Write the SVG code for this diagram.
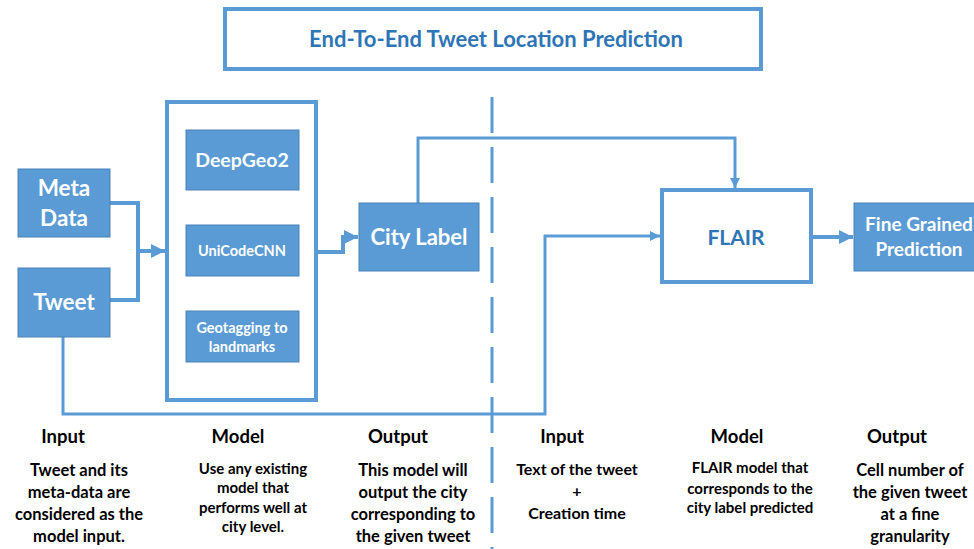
<svg xmlns="http://www.w3.org/2000/svg" width="974" height="549" viewBox="0 0 974 549">
<style>
.box{fill:#5B9BD5;stroke:#4A82B8;stroke-width:1}
.frame{fill:#fff;stroke:#5B9BD5;stroke-width:4}
.w{fill:#fff;font-family:Lato,"Open Sans",sans-serif;font-weight:700;text-anchor:middle}
.b{fill:#2E75B6;font-family:Lato,"Open Sans",sans-serif;font-weight:700;text-anchor:middle}
.k{fill:#000;font-family:Lato,"Open Sans",sans-serif;font-weight:700;text-anchor:middle}
.thick{fill:none;stroke:#5B9BD5;stroke-width:4}
.thin{fill:none;stroke:#5B9BD5;stroke-width:3}
</style>
<defs>
<marker id="ah" markerUnits="userSpaceOnUse" markerWidth="16" markerHeight="16" refX="14" refY="8" orient="auto"><path d="M0,1 L14,8 L0,15 Z" fill="#5B9BD5"/></marker>
<marker id="as" markerUnits="userSpaceOnUse" markerWidth="12" markerHeight="12" refX="10" refY="6" orient="auto"><path d="M0,1 L10,6 L0,11 Z" fill="#5B9BD5"/></marker>
</defs>
<g id="title"><rect class="frame" x="225" y="9" width="536" height="60"/><text class="b" x="496" y="47" font-size="22">End-To-End Tweet Location Prediction</text></g>
<g id="connectors">
<path class="thin" d="M492,97 V549" stroke-width="4" stroke-dasharray="36 14"/>
<path class="thick" d="M110,203 H138 V300 H110"/>
<path class="thick" d="M138,251 H165" marker-end="url(#ah)"/>
<path class="thick" d="M318,252 H343 V237 H358" marker-end="url(#ah)"/>
<path class="thin" d="M418,203 V138 H735 V188" marker-end="url(#as)"/>
<path class="thin" d="M63,337 V414 H545 V236 H660" marker-end="url(#as)"/>
<path class="thick" d="M812,237 H853" marker-end="url(#ah)"/>
</g>
<g id="meta"><rect class="box" x="18" y="169" width="92" height="68"/><text class="w" x="64" y="196" font-size="22.5">Meta</text><text class="w" x="64" y="226" font-size="22.5">Data</text></g>
<g id="tweet"><rect class="box" x="18" y="268" width="92" height="69"/><text class="w" x="64" y="310" font-size="22.5">Tweet</text></g>
<g id="model"><rect class="frame" x="167" y="102" width="149" height="298"/></g>
<g id="deepgeo"><rect class="box" x="186" y="130" width="113" height="60"/><text class="w" x="242" y="167" font-size="19.5">DeepGeo2</text></g>
<g id="unicode"><rect class="box" x="186" y="225" width="113" height="51"/><text class="w" x="242" y="256" font-size="14.5">UniCodeCNN</text></g>
<g id="geotag"><rect class="box" x="186" y="311" width="113" height="51"/><text class="w" x="242" y="333" font-size="14.5">Geotagging to</text><text class="w" x="242" y="352" font-size="14.5">landmarks</text></g>
<g id="city"><rect class="box" x="359" y="203" width="120" height="68"/><text class="w" x="419" y="245" font-size="22">City Label</text></g>
<g id="flair"><rect class="frame" x="662" y="190" width="149" height="92"/><text class="b" x="736" y="245" font-size="21">FLAIR</text></g>
<g id="fine"><rect class="box" x="854" y="203" width="125" height="68"/><text class="w" x="919" y="231" font-size="19">Fine Grained</text><text class="w" x="919" y="256" font-size="19">Prediction</text></g>
<g id="notes">
<text class="k" x="63" y="443" font-size="18.5">Input</text>
<text class="k" font-size="16.5"><tspan x="79" y="476">Tweet and its</tspan><tspan x="79" y="498">meta-data are</tspan><tspan x="79" y="520">considered as the</tspan><tspan x="79" y="542">model input.</tspan></text>
<text class="k" x="238" y="443" font-size="18.5">Model</text>
<text class="k" font-size="15"><tspan x="253" y="474">Use any existing</tspan><tspan x="253" y="493">model that</tspan><tspan x="253" y="513">performs well at</tspan><tspan x="253" y="532">city level.</tspan></text>
<text class="k" x="398" y="443" font-size="18.5">Output</text>
<text class="k" font-size="16.5"><tspan x="413" y="476">This model will</tspan><tspan x="413" y="498">output the city</tspan><tspan x="413" y="520">corresponding to</tspan><tspan x="413" y="542">the given tweet</tspan></text>
<text class="k" x="562" y="443" font-size="18.5">Input</text>
<text class="k" font-size="16"><tspan x="577" y="475">Text of the tweet</tspan><tspan x="577" y="497">+</tspan><tspan x="577" y="519">Creation time</tspan></text>
<text class="k" x="737" y="443" font-size="18.5">Model</text>
<text class="k" font-size="15"><tspan x="750" y="473">FLAIR model that</tspan><tspan x="750" y="494">corresponds to the</tspan><tspan x="750" y="513">city label predicted</tspan></text>
<text class="k" x="897" y="443" font-size="18.5">Output</text>
<text class="k" font-size="16.5"><tspan x="910" y="476">Cell number of</tspan><tspan x="910" y="498">the given tweet</tspan><tspan x="910" y="520">at a fine</tspan><tspan x="910" y="542">granularity</tspan></text>
</g>
</svg>
